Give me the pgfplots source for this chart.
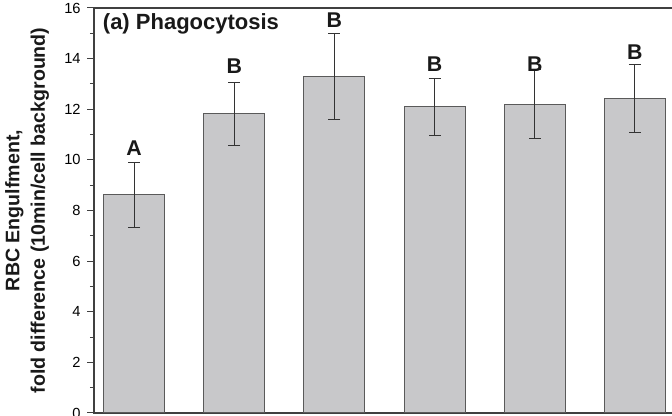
\documentclass[border=0pt]{standalone}
\usepackage{fontspec}
\setmainfont{Liberation Sans}
\usepackage{pgfplots}
\pgfplotsset{compat=1.18}
\definecolor{barfill}{HTML}{C8C8CA}
\definecolor{baredge}{HTML}{5A5A5A}
\definecolor{axcol}{HTML}{404040}
\definecolor{errcol}{HTML}{333333}

\begin{document}
\begin{tikzpicture}
\begin{axis}[
  name=ax,
  scale only axis,
  width=439.5pt, height=303.75pt,
  xmin=-0.4, xmax=5.45,
  ymin=0, ymax=16,
  axis line style={axcol, line width=0.8pt},
  xtick=\empty,
  ytick={0,2,...,16},
  minor ytick={1,3,...,15},
  tick align=outside,
  ytick pos=left,
  major tick length=5pt,
  minor tick length=3pt,
  tick style={axcol, line width=0.75pt},
  yticklabel style={font=\fontsize{11}{13}\selectfont, /pgf/number format/assume math mode=true, xshift=-1.5pt},
  clip=false,
]
\addplot[ybar, bar width=0.61, fill=barfill, draw=baredge, line width=0.75pt,
  error bars/.cd, y dir=both, y explicit,
  error bar style={errcol, line width=0.75pt},
  error mark options={rotate=90, mark size=4.5pt, errcol, line width=0.75pt}]
  coordinates {
  (0,8.62) +- (0,1.28)
  (1,11.82) +- (0,1.25)
  (2,13.31) +- (0,1.70)
  (3,12.09) +- (0,1.12)
  (4,12.20) +- (0,1.37)
  (5,12.42) +- (0,1.35)
  };
\addplot[draw=none, nodes near coords, point meta=explicit symbolic,
  nodes near coords style={anchor=base, inner sep=0pt, text=black!90, font=\fontsize{16}{18}\selectfont\bfseries}]
  coordinates {
  (0,10.19) [A]
  (1,13.42) [B]
  (2,15.21) [B]
  (3,13.48) [B]
  (4,13.51) [B]
  (5,13.97) [B]
  };
\end{axis}
\node[anchor=north west, inner sep=0pt, text=black!90, font=\fontsize{16.5}{18}\selectfont\bfseries]
  at ([xshift=6.5pt, yshift=-4pt]ax.north west) {(a) Phagocytosis};
\node[rotate=90, anchor=south, inner sep=0pt, align=center, text=black!90, font=\fontsize{14.7}{19}\selectfont\bfseries]
  at ([xshift=-33.6pt]ax.west) {RBC Engulfment,\\fold difference (10min/cell background)};
\pgfresetboundingbox
\path[use as bounding box] ([shift={(-70.5pt,-2.25pt)}]ax.south west) rectangle ++(504pt,312pt);
\end{tikzpicture}
\end{document}
